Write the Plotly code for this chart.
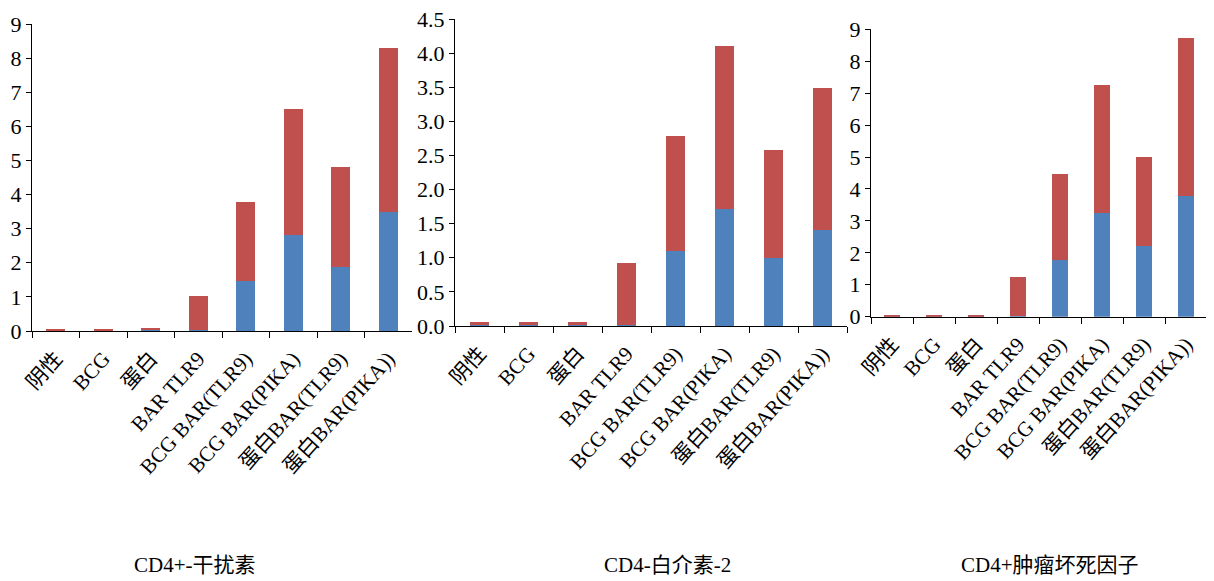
import plotly.graph_objects as go

categories = ["阴性", "BCG", "蛋白", "BAR TLR9", "BCG BAR(TLR9)", "BCG BAR(PIKA)",
              "蛋白BAR(TLR9)", "蛋白BAR(PIKA))"]

ifn_blue = [0.01, 0.01, 0.02, 0.02, 1.48, 2.82, 1.89, 3.50]
ifn_red = [0.04, 0.04, 0.08, 1.01, 2.30, 3.68, 2.91, 4.80]

il2_blue = [0.02, 0.01, 0.02, 0.02, 1.10, 1.71, 1.00, 1.41]
il2_red = [0.04, 0.05, 0.04, 0.91, 1.69, 2.39, 1.58, 2.08]

tnf_blue = [0.01, 0.01, 0.01, 0.02, 1.77, 3.24, 2.21, 3.78]
tnf_red = [0.04, 0.04, 0.04, 1.23, 2.70, 4.01, 2.78, 4.96]

titles = ["CD4+-干扰素", "CD4-白介素-2", "CD4+肿瘤坏死因子"]

BLUE = "#4F81BD"
RED = "#C0504D"
FONT = "Liberation Serif, Times New Roman, Noto Sans CJK SC, serif"

# page has an 8px body margin; work in page pixels and convert
OFF = 8
W, H = 1206, 573


def fx(px):
    return (px - OFF) / W


def fy(py):
    return (H - (py - OFF)) / H


panels = [
    dict(blue=ifn_blue, red=ifn_red, x0=32, x1=412, y0=331, y1=24, rng=[0, 9.001], dtick=1, fmt="d", title_x=195),
    dict(blue=il2_blue, red=il2_red, x0=455, x1=847, y0=326, y1=19, rng=[0, 4.5005], dtick=0.5, fmt=".1f", title_x=667),
    dict(blue=tnf_blue, red=tnf_red, x0=871, x1=1207, y0=316.7, y1=29.3, rng=[0, 9.001], dtick=1, fmt="d", title_x=1050),
]

fig = go.Figure()
layout = dict(
    width=W, height=H,
    margin=dict(l=0, r=0, t=0, b=0),
    paper_bgcolor="white", plot_bgcolor="white",
    barmode="stack", bargap=0.6,
    showlegend=False,
    font=dict(family=FONT, size=21, color="black"),
    annotations=[],
)

for i, p in enumerate(panels):
    sfx = "" if i == 0 else str(i + 1)
    xa = "x" + sfx
    ya = "y" + sfx
    fig.add_trace(go.Bar(x=categories, y=p["blue"], marker=dict(color=BLUE, line=dict(width=0)),
                         xaxis=xa, yaxis=ya, name="blue"))
    fig.add_trace(go.Bar(x=categories, y=p["red"], marker=dict(color=RED, line=dict(width=0)),
                         xaxis=xa, yaxis=ya, name="red"))
    layout["xaxis" + sfx] = dict(
        domain=[fx(p["x0"]), fx(p["x1"])], anchor=ya,
        type="category", tickson="boundaries", ticks="outside", ticklen=6,
        tickcolor="black", showline=True, linecolor="black", linewidth=1,
        showgrid=False, zeroline=False, tickangle=-48, automargin=False,
        ticklabelstandoff=6, ticklabeloverflow="allow",
        tickfont=dict(family=FONT, size=21, color="black"),
    )
    layout["yaxis" + sfx] = dict(
        domain=[fy(p["y0"]), fy(p["y1"])], anchor=xa,
        range=p["rng"], dtick=p["dtick"], tick0=0, tickformat=p["fmt"],
        ticks="outside", ticklen=5, tickcolor="black",
        showline=True, linecolor="black", linewidth=1,
        showgrid=False, zeroline=False, automargin=False,
        ticklabeloverflow="allow",
        tickfont=dict(family=FONT, size=22, color="black"),
    )
    layout["annotations"].append(dict(
        text=titles[i], x=fx(p["title_x"]), y=fy(565), xref="paper", yref="paper",
        xanchor="center", yanchor="middle", showarrow=False,
        font=dict(family=FONT, size=21, color="black"),
    ))

fig.update_layout(**layout)
fig.write_html("out.html")
